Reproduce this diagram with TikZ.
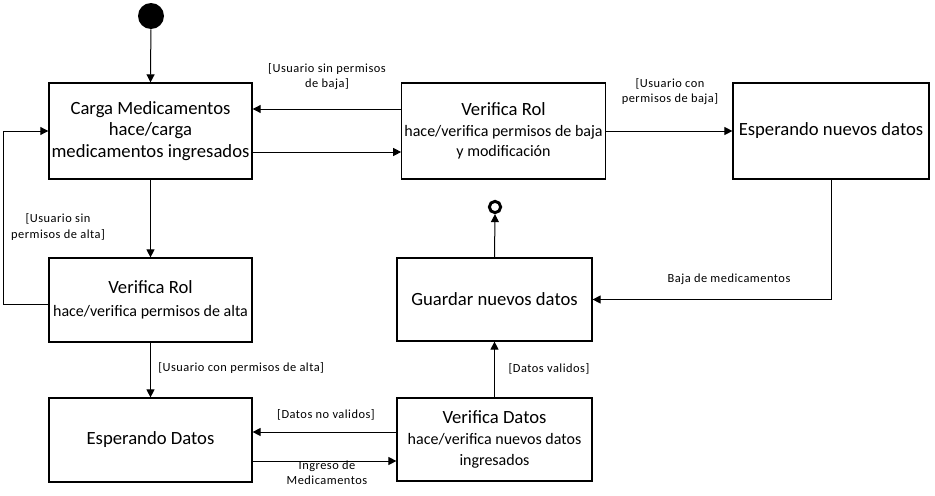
\documentclass[tikz,border=0pt]{standalone}
\usepackage{fontspec}
\setmainfont{Carlito}
\newfontfamily\lblfont[LetterSpace=4]{Carlito}
\usetikzlibrary{arrows.meta,calc}
\tikzset{
  statebox/.style={draw=black, line width=0.9pt, fill=white, align=center, inner sep=2pt,
    font=\fontsize{12}{15.5}\selectfont},
  arr/.style={draw=black, line width=0.75pt, -{Triangle[length=6pt,width=6pt]}},
  lbl/.style={font=\lblfont\fontsize{9.3}{11.3}\selectfont, align=center, inner sep=0pt},
}
\newcommand{\ttl}{\fontsize{14}{15.5}\selectfont}
\begin{document}
\begin{tikzpicture}[x=0.75pt,y=-0.75pt]
\useasboundingbox (0,0) rectangle (935,496);
% initial and final
\node[circle, fill=black, inner sep=0pt, minimum size=19.5pt] (ini) at (151,16) {};
\node[circle, draw=black, fill=white, line width=2.2pt, inner sep=0pt, minimum size=8.5pt] (fin) at (495,207) {};
% states
\node[statebox, minimum width=152.25pt, minimum height=72pt, font=\fontsize{14}{16.3}\selectfont] (carga) at (150.5,131)
  {Carga Medicamentos\\hace/carga\\medicamentos ingresados};
\node[statebox, minimum width=152.25pt, minimum height=72pt] (vrt) at (503.5,131)
  {{\ttl Verifica Rol}\\hace/verifica permisos de baja\\y modificación};
\node[statebox, minimum width=147pt, minimum height=72pt, font=\ttl] (en) at (831,131)
  {Esperando nuevos datos};
\node[statebox, minimum width=152.25pt, minimum height=63pt, font=\fontsize{12}{17}\selectfont] (vrl) at (150.5,300)
  {{\ttl Verifica Rol}\\hace/verifica permisos de alta};
\node[statebox, minimum width=146.25pt, minimum height=62.25pt, font=\ttl] (gu) at (494.5,299.5)
  {Guardar nuevos datos};
\node[statebox, minimum width=152.25pt, minimum height=63pt, font=\ttl] (ed) at (150.5,440)
  {Esperando Datos};
\node[statebox, minimum width=146.25pt, minimum height=62.25pt] (vd) at (494.5,439.5)
  {{\ttl Verifica Datos}\\hace/verifica nuevos datos\\ingresados};
% helper coordinates
\coordinate (p1) at ($(vrt.west)+(0,-22)$);
\coordinate (p2) at ($(carga.east)+(0,21)$);
\coordinate (p3) at ($(vd.west)+(0,-7.5)$);
\coordinate (p4) at ($(ed.east)+(0,21)$);
\coordinate (l1) at (3,304);
\coordinate (l2) at (3,131);
% connectors
\draw[arr] (ini) -- (carga.north);
\draw[arr] (p1) -- (carga.east |- p1);
\draw[arr] (p2) -- (vrt.west |- p2);
\draw[arr] (vrt.east) -- (en.west);
\draw[arr] (en.south) |- (gu.east);
\draw[arr] (gu.north) -- (fin.south);
\draw[arr] (vd.north) -- (gu.south);
\draw[arr] (p3) -- (ed.east |- p3);
\draw[arr] (p4) -- (vd.west |- p4);
\draw[arr] (carga.south) -- (vrl.north);
\draw[arr] (vrl.west |- l1) -- (l1) -- (l2) -- (carga.west |- l2);
\draw[arr] (vrl.south) -- (ed.north);
% labels
\node[lbl] (t1) at (327,77) {[Usuario sin permisos\\de baja]};
\node[lbl] (t2) at (670,92) {[Usuario con\\permisos de baja]};
\node[lbl] (t3) at (729,279) {Baja de medicamentos};
\node[lbl] (t4) at (549,369) {[Datos validos]};
\node[lbl] (t5) at (326,415) {[Datos no validos]};
\node[lbl] (t6) at (327,473) {Ingreso de\\Medicamentos};
\node[lbl, anchor=west] (t7) at (158,368) {[Usuario con permisos de alta]};
\node[lbl] (t8) at (58,227) {[Usuario sin\\permisos de alta]};
\end{tikzpicture}
\end{document}
